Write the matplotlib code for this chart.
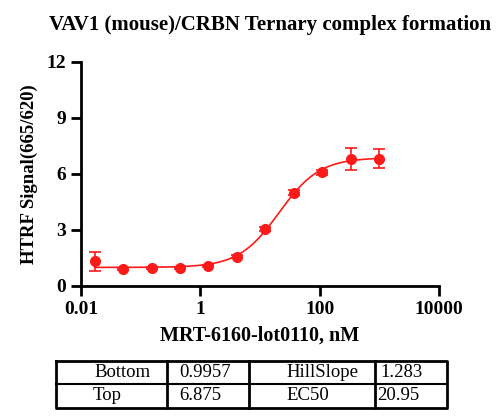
import numpy as np
import matplotlib
matplotlib.use('Agg')
import matplotlib.pyplot as plt

plt.rcParams['font.family'] = ['Liberation Serif', 'DejaVu Serif']

# dose (nM), 3-fold dilution from 1000
conc = [0.0169, 0.0508, 0.152, 0.457, 1.37, 4.12, 12.3, 37.0, 111.1, 333.3, 1000.0]
signal = [1.33, 0.93, 0.95, 0.97, 1.09, 1.58, 3.05, 5.00, 6.09, 6.82, 6.82]
err = [0.50, 0.05, 0.05, 0.05, 0.06, 0.08, 0.10, 0.12, 0.12, 0.58, 0.50]

# fit parameters (4PL)
fit_names = ['Bottom', 'Top', 'HillSlope', 'EC50']
fit_vals = ['0.9957', '6.875', '1.283', '20.95']
bottom, top, hill, ec50 = 0.9957, 6.875, 1.283, 20.95

red = '#ff1a1a'

fig = plt.figure(figsize=(5, 4.2), dpi=100)
ax = fig.add_axes([81/500, 1-286/420, 358/500, 224/420])

xx = np.logspace(np.log10(conc[0]), np.log10(conc[-1]), 300)
yy = bottom + (top - bottom) / (1 + (ec50 / xx) ** hill)
ax.plot(xx, yy, color=red, lw=1.2)
ax.errorbar(conc, signal, yerr=err, fmt='o', color=red, ms=7, capsize=4,
            elinewidth=1.2, capthick=1.2)

ax.set_xscale('log')
ax.set_xlim(0.01, 10000)
ax.set_ylim(0, 12)
ax.set_xticks([0.01, 1, 100, 10000])
ax.set_xticklabels(['0.01', '1', '100', '10000'])
ax.set_yticks([0, 3, 6, 9, 12])
ax.minorticks_off()
for s in ['top', 'right']:
    ax.spines[s].set_visible(False)
for s in ['left', 'bottom']:
    ax.spines[s].set_linewidth(2)
ax.tick_params(width=2, length=7, labelsize=14)
for lab in ax.get_xticklabels() + ax.get_yticklabels():
    lab.set_fontweight('bold')

ax.set_ylabel('HTRF Signal(665/620)', fontsize=13.5, fontweight='bold', labelpad=6)
ax.set_xlabel('MRT-6160-lot0110, nM', fontsize=14.5, fontweight='bold', labelpad=6)
fig.text(270/500, 1-25/420, 'VAV1 (mouse)/CRBN Ternary complex formation',
         ha='center', va='center', fontsize=15, fontweight='bold')

# parameter table
tab = fig.add_axes([0, 0, 1, 1])
tab.set_xlim(0, 500)
tab.set_ylim(420, 0)
tab.axis('off')
x0, x1, y0, y1, ym = 56, 447, 361, 408, 384
tab.plot([x0, x1, x1, x0, x0], [y0, y0, y1, y1, y0], color='black', lw=2)
tab.plot([x0, x1], [ym, ym], color='black', lw=1.5)
for xc in [167, 249, 375]:
    tab.plot([xc, xc], [y0, y1], color='black', lw=2)
cells = [(94, y0 + 11.5, fit_names[0]), (179, y0 + 11.5, fit_vals[0]),
         (286, y0 + 11.5, fit_names[2]), (380, y0 + 11.5, fit_vals[2]),
         (93, ym + 12, fit_names[1]), (179, ym + 12, fit_vals[1]),
         (286, ym + 12, fit_names[3]), (377, ym + 12, fit_vals[3])]
for cx, cy, t in cells:
    tab.text(cx, cy, t, ha='left', va='center', fontsize=13.5)

fig.savefig('out.png', dpi=100)
